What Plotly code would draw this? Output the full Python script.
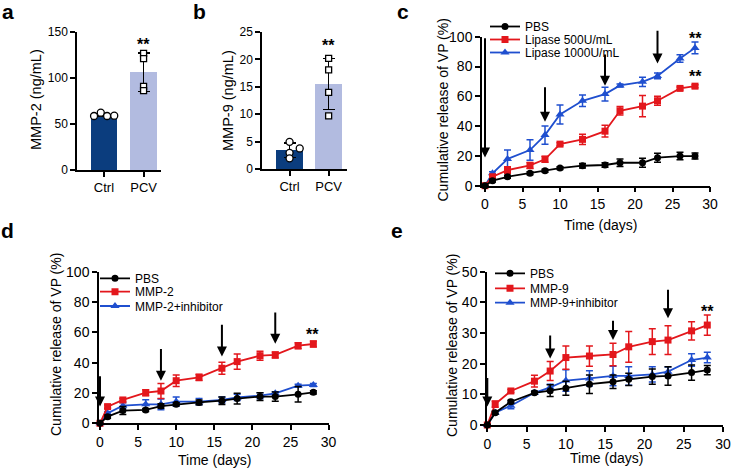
import plotly.graph_objects as go

W, H = 733, 472
FONT = "Liberation Sans, Arial, sans-serif"

# ---------------- data ----------------
groups = ["Ctrl", "PCV"]
group_pos = [0, 1]

mmp2_mean = [59.7, 106.3]
mmp2_sd = [1.7, 20.7]
mmp2_ctrl_pts = [58.7, 62.3, 58.7, 59.0]
mmp2_pcv_pts = [126.8, 121.0, 91.0, 86.3]
mmp2_ctrl_jit = [-0.25, -0.08, 0.08, 0.26]
mmp2_pcv_jit = [0.0, 0.0, 0.0, 0.0]

mmp9_mean = [3.4, 15.5]
mmp9_sd = [1.3, 4.65]
mmp9_ctrl_pts = [4.95, 3.75, 2.95, 1.95]
mmp9_pcv_pts = [20.2, 18.1, 14.0, 9.7]
mmp9_ctrl_jit = [0.0, 0.26, 0.0, 0.0]
mmp9_pcv_jit = [0.0, 0.0, 0.0, 0.0]

days = [0, 1, 3, 6, 8, 10, 13, 16, 18, 21, 23, 26, 28]

c_pbs = [0, 3.4, 6.0, 8.3, 10.1, 11.8, 13.4, 13.9, 15.4, 15.4, 18.8, 19.9, 19.9]
c_pbs_err = [0, 1, 1, 1, 1, 1, 1.5, 1.5, 2.5, 3, 3, 2.5, 2]
c_l500 = [0, 6.0, 10.5, 13.6, 17.7, 27.9, 31.1, 36.6, 50.3, 53.4, 57.0, 65.3, 66.8]
c_l500_err = [0, 1, 2.2, 2, 2, 1, 3.4, 3.9, 2.8, 7.2, 3, 1, 1]
c_l1000 = [0, 8.3, 17.9, 23.9, 34.0, 47.8, 57.0, 61.5, 67.3, 69.7, 73.7, 85.4, 92.5]
c_l1000_err = [0, 1, 6.1, 6.9, 6.1, 6.4, 3.9, 4.6, 1, 3.1, 2, 2.5, 3.9]

d_pbs = [0, 4.4, 8.4, 8.8, 11.4, 12.5, 13.8, 14.9, 16.3, 17.6, 17.6, 19.1, 20.4]
d_pbs_err = [0, 1, 2.6, 1, 1.5, 1, 1.5, 2.5, 3.6, 2.5, 3, 5.1, 1]
d_mmp2 = [0, 11, 15.4, 20.2, 21.3, 28.1, 30.3, 36.3, 40.7, 44.6, 45.1, 51.2, 52.3]
d_mmp2_err = [0, 1, 1, 2, 4.9, 3.8, 2, 4, 5, 3, 2, 2, 2]
d_inh = [0, 6.6, 11.6, 12.5, 12.5, 14.3, 14.3, 15.4, 17.1, 18.2, 19.8, 24.8, 25.3]
d_inh_err = [0, 1, 2, 3, 3.5, 3, 2, 2, 2, 2, 1, 1, 1]

e_pbs = [0, 4.0, 7.6, 10.5, 11.2, 12.0, 13.3, 14.1, 14.9, 15.8, 16.0, 17.1, 17.9]
e_pbs_err = [0, 0.5, 0.5, 0.5, 1.9, 2.3, 3, 2.2, 2, 2.5, 3, 2.5, 1.5]
e_mmp9 = [0, 6.8, 11.1, 14.3, 17.6, 22.0, 22.5, 23.0, 25.5, 27.2, 27.7, 30.7, 32.6]
e_mmp9_err = [0, 1, 0.5, 1.9, 3.1, 3.8, 3.3, 3.7, 5, 4.2, 4.7, 3, 3.3]
e_inh = [0, 4.0, 6.3, 10.5, 12.3, 14.5, 15.2, 16.0, 16.0, 16.5, 17.4, 21.2, 22.0]
e_inh_err = [0, 0.5, 1, 0.5, 1, 3.5, 2.5, 3.2, 3, 2.5, 1.5, 2, 1.7]

arrow_days = [0, 8, 16, 23]
c_arrow_top = [100, 67, 89, 105]
c_arrow_tip = [19, 43, 67, 82]
d_arrow_top = [32, 50, 66, 74]
d_arrow_tip = [11, 28, 44, 52.5]
e_arrow_top = [15.8, 29.7, 34.5, 44.6]
e_arrow_tip = [6, 21.7, 27.7, 34.8]

# significance marks: (axis id, x, y)
stars = [("", 1, 136), ("2", 1, 22.6), ("3", 28, 99), ("3", 28, 73.6),
         ("4", 27.9, 58.4), ("5", 28, 37.1)]

CTRL_COLOR = "#0B3D7E"
PCV_COLOR = "#B2BBE0"
BLACK = "#000000"
RED = "#E3171C"
BLUE = "#1F4FCF"


def xd(l, r):
    return [l / W, r / W]


def yd(top, bottom):
    return [1 - bottom / H, 1 - top / H]


def px_x(p):
    return p / W


def px_y(p):
    return 1 - p / H


fig = go.Figure()

# ---------------- panels a, b (bars) ----------------
for ax, means, sds, cpts, ppts, cj, pj in [
    ("", mmp2_mean, mmp2_sd, mmp2_ctrl_pts, mmp2_pcv_pts, mmp2_ctrl_jit, mmp2_pcv_jit),
    ("2", mmp9_mean, mmp9_sd, mmp9_ctrl_pts, mmp9_pcv_pts, mmp9_ctrl_jit, mmp9_pcv_jit),
]:
    fig.add_trace(go.Bar(
        x=group_pos, y=means, width=0.675,
        marker=dict(color=[CTRL_COLOR, PCV_COLOR], line=dict(width=0)),
        error_y=dict(type="data", array=sds, color=BLACK, thickness=1.5, width=6),
        xaxis="x" + ax, yaxis="y" + ax, showlegend=False,
    ))
    fig.add_trace(go.Scatter(
        x=[group_pos[0] + j for j in cj], y=cpts, mode="markers",
        marker=dict(symbol="circle", size=7, color="white", line=dict(color=BLACK, width=1.3)),
        xaxis="x" + ax, yaxis="y" + ax, showlegend=False, cliponaxis=False,
    ))
    fig.add_trace(go.Scatter(
        x=[group_pos[1] + j for j in pj], y=ppts, mode="markers",
        marker=dict(symbol="square", size=6, color="white", line=dict(color=BLACK, width=1.3)),
        xaxis="x" + ax, yaxis="y" + ax, showlegend=False, cliponaxis=False,
    ))

# ---------------- panels c, d, e (release curves) ----------------
panels = [
    ("3", [("PBS", c_pbs, c_pbs_err, BLACK, "circle"),
           ("Lipase 500U/mL", c_l500, c_l500_err, RED, "square"),
           ("Lipase 1000U/mL", c_l1000, c_l1000_err, BLUE, "triangle-up")]),
    ("4", [("PBS", d_pbs, d_pbs_err, BLACK, "circle"),
           ("MMP-2", d_mmp2, d_mmp2_err, RED, "square"),
           ("MMP-2+inhibitor", d_inh, d_inh_err, BLUE, "triangle-up")]),
    ("5", [("PBS", e_pbs, e_pbs_err, BLACK, "circle"),
           ("MMP-9", e_mmp9, e_mmp9_err, RED, "square"),
           ("MMP-9+inhibitor", e_inh, e_inh_err, BLUE, "triangle-up")]),
]

legend_rows = {
    "3": (485, [26.5, 39.5, 52.5]),
    "4": (95, [278.3, 291.7, 306]),
    "5": (490, [273.3, 288.3, 302.7]),
}

legend_layouts = {}
lid = 1
for ax, series in panels:
    lx, rows = legend_rows[ax]
    ids = []
    for k in range(3):
        ids.append("legend" if lid == 1 else "legend%d" % lid)
        legend_layouts[ids[-1]] = dict(
            x=px_x(lx), y=px_y(rows[k]), xanchor="left", yanchor="middle",
            bgcolor="rgba(0,0,0,0)", borderwidth=0,
            font=dict(family=FONT, size=12, color=BLACK),
            itemwidth=30, tracegroupgap=0,
        )
        lid += 1
    # blue first, then red, then black on top
    for k in [2, 1, 0]:
        name, vals, errs, col, sym = series[k]
        fig.add_trace(go.Scatter(
            x=days, y=vals, name=name, mode="lines+markers",
            line=dict(color=col, width=1.8),
            marker=dict(symbol=sym, size=7 if sym != "triangle-up" else 8, color=col),
            error_y=dict(type="data", array=errs, color=col, thickness=1.5, width=3.5),
            xaxis="x" + ax, yaxis="y" + ax, cliponaxis=False,
            legend=ids[k], showlegend=True,
        ))

# ---------------- axes ----------------
axis_common = dict(showline=True, linecolor=BLACK, linewidth=1.5, ticks="outside",
                   ticklen=5, tickwidth=1.5, tickcolor=BLACK, showgrid=False,
                   zeroline=False, automargin=False,
                   tickfont=dict(family=FONT, size=14, color=BLACK))

layout_axes = dict(
    xaxis=dict(axis_common, domain=xd(77, 161), range=[-0.68, 1.44], tickvals=group_pos,
               ticktext=groups, anchor="y", tickfont=dict(family=FONT, size=13, color=BLACK)),
    yaxis=dict(axis_common, domain=yd(32, 170), range=[0, 150], dtick=50, anchor="x",
               tickfont=dict(family=FONT, size=12, color=BLACK)),
    xaxis2=dict(axis_common, domain=xd(262, 347), range=[-0.705, 1.47], tickvals=group_pos,
                ticktext=groups, anchor="y2", tickfont=dict(family=FONT, size=13, color=BLACK)),
    yaxis2=dict(axis_common, domain=yd(32, 169), range=[0, 25], dtick=5, anchor="x2",
                tickfont=dict(family=FONT, size=12, color=BLACK)),
    xaxis3=dict(axis_common, domain=xd(482, 710), range=[-0.4, 30], dtick=5, anchor="y3"),
    yaxis3=dict(axis_common, domain=yd(36.7, 185.7), range=[0, 100], dtick=20, anchor="x3"),
    xaxis4=dict(axis_common, domain=xd(99, 328.6), range=[-0.13, 30], dtick=5, anchor="y4"),
    yaxis4=dict(axis_common, domain=yd(271.7, 423.3), range=[0, 100], dtick=20, anchor="x4"),
    xaxis5=dict(axis_common, domain=xd(487, 723), range=[-0.04, 30], dtick=5, anchor="y5"),
    yaxis5=dict(axis_common, domain=yd(271.7, 425), range=[0, 50], dtick=10, anchor="x5"),
)

# ---------------- annotations ----------------
ann = []


def text_ann(txt, x, y, size, angle=0, bold=False):
    ann.append(dict(text=("<b>%s</b>" % txt) if bold else txt, x=px_x(x), y=px_y(y),
                    xref="paper", yref="paper", showarrow=False, textangle=angle,
                    xanchor="center", yanchor="middle",
                    font=dict(family=FONT, size=size, color=BLACK)))


for letter, x, y in [("a", 8, 11), ("b", 199, 11), ("c", 403, 11), ("d", 7, 230), ("e", 397, 230)]:
    text_ann(letter, x, y, 21, bold=True)

text_ann("MMP-2 (ng/mL)", 36, 100, 14.5, angle=-90)
text_ann("MMP-9 (ng/mL)", 228, 100, 14.5, angle=-90)
text_ann("Cumulative release of VP (%)", 442.5, 110, 14, angle=-90)
text_ann("Cumulative release of VP (%)", 56, 345, 14, angle=-90)
text_ann("Cumulative release of VP (%)", 452, 346, 14, angle=-90)
text_ann("Time (days)", 600, 225, 14)
text_ann("Time (days)", 214, 460, 14)
text_ann("Time (days)", 606, 458, 14)

for ax, sx, sy in stars:
    ann.append(dict(text="<b>**</b>", x=sx, y=sy, xref="x" + ax, yref="y" + ax,
                    showarrow=False, xanchor="center", yanchor="middle",
                    font=dict(family=FONT, size=16, color=BLACK)))

for ax, tops, tips in [("3", c_arrow_top, c_arrow_tip), ("4", d_arrow_top, d_arrow_tip),
                       ("5", e_arrow_top, e_arrow_tip)]:
    for dday, top, tip in zip(arrow_days, tops, tips):
        ann.append(dict(text="", x=dday, y=tip, ax=dday, ay=top,
                        xref="x" + ax, yref="y" + ax, axref="x" + ax, ayref="y" + ax,
                        showarrow=True, arrowhead=2, arrowsize=1, arrowwidth=2,
                        arrowcolor=BLACK, standoff=0))

fig.update_layout(
    template="none",
    width=W, height=H, margin=dict(l=0, r=0, t=0, b=0, pad=0, autoexpand=False),
    paper_bgcolor="white", plot_bgcolor="white",
    font=dict(family=FONT, color=BLACK),
    annotations=ann, showlegend=True, bargap=0,
    **layout_axes, **legend_layouts,
)

fig.write_html(
    "out.html",
    config={"displayModeBar": False},
    post_script="document.body.style.margin='0px';document.body.style.padding='0px';",
)
